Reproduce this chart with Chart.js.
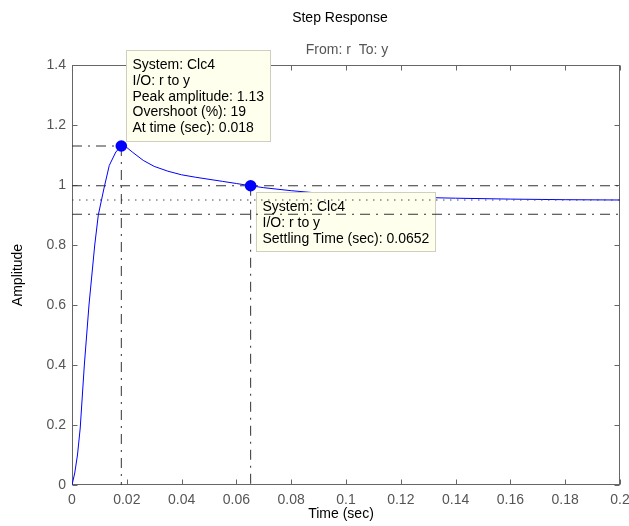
<!DOCTYPE html>
<html>
<head>
<meta charset="utf-8">
<script src="https://cdn.jsdelivr.net/npm/chart.js@4/dist/chart.umd.min.js"></script>
<style>
  html, body { margin: 0; padding: 0; background: #ffffff; }
  #c { display: block; }
</style>
</head>
<body>
<canvas id="c" width="629" height="526"></canvas>
<script>
// ---- data ----
const timeSec   = [0, 0.001, 0.002, 0.003, 0.0045, 0.0062, 0.0083, 0.0096, 0.0117, 0.0136, 0.016, 0.018,
                   0.020, 0.022, 0.026, 0.030, 0.035, 0.040, 0.045, 0.050, 0.055, 0.060, 0.0652,
                   0.070, 0.080, 0.090, 0.100, 0.110, 0.120, 0.140, 0.160, 0.180, 0.200];
const amplitude = [0, 0.04, 0.10, 0.19, 0.40, 0.60, 0.80, 0.90, 0.99, 1.065, 1.11, 1.13,
                   1.125, 1.11, 1.082, 1.062, 1.046, 1.034, 1.026, 1.019, 1.012, 1.005, 0.9975,
                   0.991, 0.981, 0.973, 0.967, 0.963, 0.960, 0.956, 0.953, 0.951, 0.950];

const peakTime = 0.018;
const peakAmplitude = 1.13;
const overshootPct = 19;
const settlingTime = 0.0652;
const finalValue = 0.95;
const settleUpper = 0.9975;
const settleLower = 0.9025;

const xTickLabels = ['0', '0.02', '0.04', '0.06', '0.08', '0.1', '0.12', '0.14', '0.16', '0.18', '0.2'];
const yTickLabels = ['0', '0.2', '0.4', '0.6', '0.8', '1', '1.2', '1.4'];

const chartTitle = 'Step Response';
const chartSubtitle = 'From: r  To: y';
const xAxisTitle = 'Time (sec)';
const yAxisTitle = 'Amplitude';

const peakTipLines = ['System: Clc4', 'I/O: r to y', 'Peak amplitude: ' + peakAmplitude,
                      'Overshoot (%): ' + overshootPct, 'At time (sec): ' + peakTime];
const settleTipLines = ['System: Clc4', 'I/O: r to y', 'Settling Time (sec): ' + settlingTime];

// ---- styling ----
const FONT = '"Liberation Sans", Arial, Helvetica, sans-serif';
const AXIS_GREY = '#666666';
const LABEL_GREY = '#555555';
const REF_COLOR = '#333333';
const DASHDOT = [10, 6, 2, 6];

const curvePts = timeSec.map((t, i) => ({ x: t, y: amplitude[i] }));
const xMin = 0, xMax = 0.2, yMin = 0, yMax = 1.4;

function refLine(points, dash, color) {
  return {
    data: points, showLine: true, borderColor: color || REF_COLOR, borderWidth: 1,
    borderDash: dash, pointRadius: 0, fill: false, tension: 0, order: 5
  };
}

const datasets = [
  { data: curvePts, showLine: true, borderColor: '#0000ff', borderWidth: 1, pointRadius: 0,
    fill: false, tension: 0, order: 10 },
  refLine([{ x: xMin, y: peakAmplitude }, { x: peakTime, y: peakAmplitude }], DASHDOT),
  refLine([{ x: peakTime, y: peakAmplitude }, { x: peakTime, y: yMin }], DASHDOT),
  refLine([{ x: xMin, y: settleUpper }, { x: xMax, y: settleUpper }], DASHDOT),
  refLine([{ x: xMin, y: settleLower }, { x: xMax, y: settleLower }], DASHDOT),
  refLine([{ x: xMin, y: finalValue }, { x: xMax, y: finalValue }], [1.5, 5.5], '#444444'),
  refLine([{ x: settlingTime, y: settleUpper }, { x: settlingTime, y: yMin }], DASHDOT),
  { data: [{ x: peakTime, y: peakAmplitude }, { x: settlingTime, y: settleUpper }], showLine: false,
    pointRadius: 5.8, pointBackgroundColor: '#0000ff', pointBorderWidth: 0, order: 0 }
];

const tips = [
  { t: peakTime, v: peakAmplitude, lines: peakTipLines, place: 'above' },
  { t: settlingTime, v: settleUpper, lines: settleTipLines, place: 'below' }
];

function tipGeom(chart, tip) {
  const ctx = chart.ctx;
  const x = chart.scales.x.getPixelForValue(tip.t);
  const y = chart.scales.y.getPixelForValue(tip.v);
  ctx.save();
  ctx.font = '14px ' + FONT;
  let w = 0;
  tip.lines.forEach(l => { w = Math.max(w, ctx.measureText(l).width); });
  ctx.restore();
  const lineH = 15.7;
  const bw = Math.round(w + 13.5);
  const bh = Math.round(lineH * (tip.lines.length - 1) + 29);
  let left, top;
  if (tip.place === 'above') { left = Math.round(x + 4.5); top = Math.round(y - 4 - bh); }
  else { left = Math.round(x + 5); top = Math.round(y + 6.5); }
  return { left, top, bw, bh, lineH };
}

const plugin = {
  id: 'matlabLook',
  beforeDatasetsDraw(chart) {
    const ctx = chart.ctx, a = chart.chartArea;
    const L = Math.round(a.left) + 0.5, R = Math.round(a.right) - 0.5;
    const T = Math.round(a.top) + 0.5, B = Math.round(a.bottom) - 0.5;
    ctx.save();
    ctx.strokeStyle = AXIS_GREY;
    ctx.lineWidth = 1;
    ctx.strokeRect(L, T, R - L, B - T);
    ctx.beginPath();
    chart.scales.x.ticks.forEach(tk => {
      const px = Math.round(chart.scales.x.getPixelForValue(tk.value)) + 0.5;
      ctx.moveTo(px, B); ctx.lineTo(px, B - 5);
      ctx.moveTo(px, T); ctx.lineTo(px, T + 5);
    });
    chart.scales.y.ticks.forEach(tk => {
      const py = Math.round(chart.scales.y.getPixelForValue(tk.value)) + 0.5;
      ctx.moveTo(L, py); ctx.lineTo(L + 5, py);
      ctx.moveTo(R, py); ctx.lineTo(R - 5, py);
    });
    ctx.stroke();
    ctx.restore();
  },
  afterDatasetDraw(chart, args) {
    if (args.index !== 0) return;
    const ctx = chart.ctx;
    tips.forEach(tip => {
      const g = tipGeom(chart, tip);
      ctx.save();
      ctx.fillStyle = '#ffffee';
      ctx.fillRect(g.left, g.top, g.bw, g.bh);
      ctx.strokeStyle = '#cfcfbf';
      ctx.lineWidth = 1;
      ctx.strokeRect(g.left + 0.5, g.top + 0.5, g.bw - 1, g.bh - 1);
      ctx.restore();
    });
  },
  afterDatasetsDraw(chart) {
    const ctx = chart.ctx, a = chart.chartArea;
    ctx.save();
    ctx.font = '14px ' + FONT;
    ctx.fillStyle = '#000000';
    ctx.textBaseline = 'middle';
    ctx.textAlign = 'left';
    tips.forEach(tip => {
      const g = tipGeom(chart, tip);
      tip.lines.forEach((l, i) => {
        ctx.fillText(l, g.left + 6.5, g.top + 15.5 + i * g.lineH);
      });
    });
    const cx = (a.left + a.right) / 2;
    ctx.textAlign = 'center';
    ctx.fillStyle = '#000000';
    ctx.fillText(chartTitle, cx - 6, 18);
    ctx.fillStyle = LABEL_GREY;
    ctx.fillText(chartSubtitle, cx + 1, 50);
    ctx.fillStyle = '#000000';
    ctx.fillText(xAxisTitle, cx - 5, 514);
    ctx.translate(18, (a.top + a.bottom) / 2);
    ctx.rotate(-Math.PI / 2);
    ctx.fillText(yAxisTitle, 0, 0);
    ctx.restore();
  }
};

new Chart(document.getElementById('c'), {
  type: 'scatter',
  data: { datasets },
  options: {
    responsive: false,
    animation: false,
    devicePixelRatio: 1,
    events: [],
    layout: { padding: { left: 0, right: 9, top: 65, bottom: 0 } },
    plugins: { legend: { display: false }, tooltip: { enabled: false }, title: { display: false } },
    scales: {
      x: {
        type: 'linear', min: xMin, max: xMax,
        grid: { display: false, drawTicks: false },
        border: { display: false },
        ticks: {
          stepSize: 0.02, autoSkip: false, maxRotation: 0, padding: 7,
          color: LABEL_GREY, font: { family: FONT, size: 14 },
          callback: (v, i) => xTickLabels[i]
        },
        afterFit: s => { s.height = 41; s.paddingLeft = 0; s.paddingRight = 0; }
      },
      y: {
        type: 'linear', min: yMin, max: yMax,
        grid: { display: false, drawTicks: false },
        border: { display: false },
        ticks: {
          stepSize: 0.2, autoSkip: false, padding: 6,
          color: LABEL_GREY, font: { family: FONT, size: 14 },
          callback: (v, i) => yTickLabels[i]
        },
        afterFit: s => { s.width = 72; s.paddingTop = 0; s.paddingBottom = 0; }
      }
    }
  },
  plugins: [plugin]
});
</script>
</body>
</html>
